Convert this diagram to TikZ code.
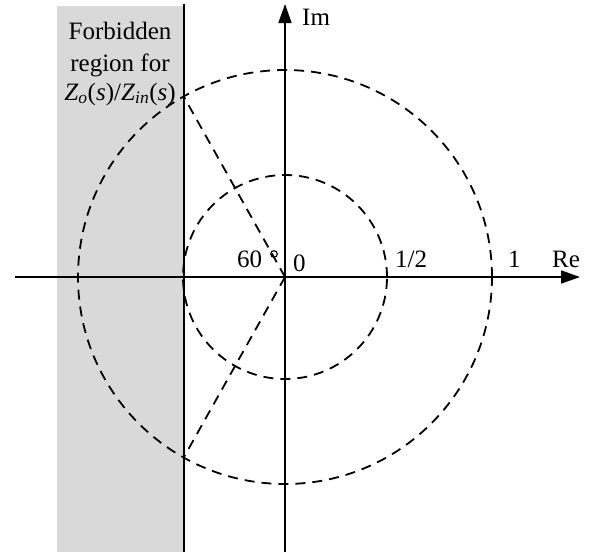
\documentclass[tikz,border=0pt]{standalone}
\usepackage{fontspec}
\setmainfont{Liberation Serif}
\usetikzlibrary{arrows.meta}
\tikzset{
  axis/.style={line width=1.7pt,-{Triangle[length=19pt,width=13pt]}},
  dashline/.style={line width=1.8pt,dash pattern=on 10pt off 7pt},
  lbl/.style={inner sep=0pt,anchor=base west,font=\fontsize{25}{30}\selectfont},
  ttl/.style={inner sep=0pt,anchor=base,font=\fontsize{25}{30}\selectfont}
}
\begin{document}
\begin{tikzpicture}[x=1pt,y=-1pt]
\useasboundingbox (0,0) rectangle (600,552);
\fill[gray!30] (57,6) rectangle (184,552);
\coordinate (O) at (285,277);
\coordinate (T) at (184,97);
\coordinate (B) at (184,457);
\draw[line width=2.2pt] (184,4) coordinate (vt) -- (184,552) coordinate (vb);
\draw[dashline] (O) circle[radius=207pt];
\draw[dashline] (O) circle[radius=102pt];
\draw[dashline] (O) -- (T);
\draw[dashline] (O) -- (B);
\coordinate (xl) at (15,277);
\coordinate (xr) at (580,277);
\coordinate (yb) at (285,552);
\coordinate (yt) at (285,4);
\draw[axis] (xl) -- (xr);
\draw[axis] (yb) -- (yt);
\draw[line width=1.1pt] (274,254) circle[radius=3.3pt];
\node[ttl] (t1) at (120,39) {Forbidden};
\node[ttl] (t2) at (120,71) {region for};
\node[ttl] (t3) at (120,100) {\textit{Z}\textsubscript{\textit{o}}(\textit{s})/\textit{Z}\textsubscript{\textit{in}}(\textit{s})};
\node[lbl] (im) at (302,25) {Im};
\node[lbl] (re) at (552,267) {Re};
\node[lbl] (one) at (508,267) {1};
\node[lbl] (half) at (395,267) {1/2};
\node[lbl] (zero) at (293,271) {0};
\node[lbl] (sixty) at (237,267) {60};
\end{tikzpicture}
\end{document}
